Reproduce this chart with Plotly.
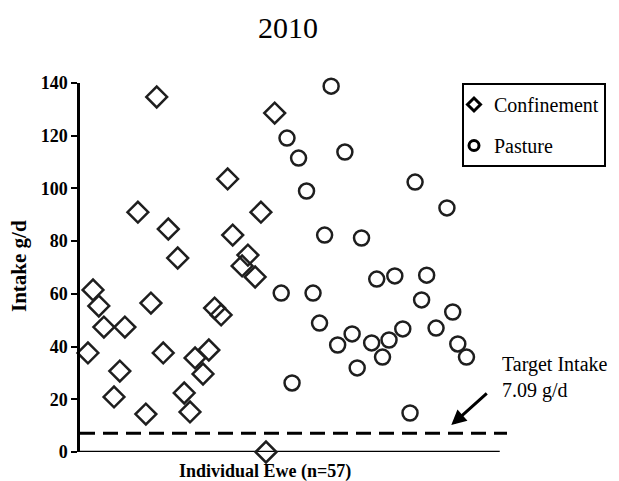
import plotly.graph_objects as go

# Individual ewe intake (g/d), position along the x axis = ewe slot
conf_pos = [1.1, 1.8, 2.6, 3.3, 4.7, 5.5, 6.2, 8.0, 9.1, 9.8, 10.6, 11.5, 12.2, 13.5, 14.4,
            15.2, 15.9, 17.0, 17.8, 18.6, 19.5, 20.4, 21.1, 22.4, 23.2, 24.2, 25.0, 25.7, 26.9]
conf_intake = [37.6, 61.5, 55.4, 47.4, 20.9, 30.7, 47.4, 91.0, 14.4, 56.5, 134.7, 37.6, 84.6, 73.6, 22.4,
               15.2, 35.7, 29.6, 38.7, 54.6, 52.0, 103.6, 82.3, 70.6, 74.7, 66.4, 91.0, 0.0, 128.6]

past_pos = [27.8, 28.6, 29.3, 30.2, 31.3, 32.2, 33.1, 33.8, 34.7, 35.6, 36.6, 37.6, 38.3, 38.9, 40.3,
            41.0, 41.8, 42.7, 43.5, 44.6, 45.6, 46.3, 47.2, 47.9, 49.2, 50.7, 51.5, 52.2, 53.4]
past_intake = [60.3, 119.1, 26.2, 111.5, 99.0, 60.3, 48.9, 82.3, 138.8, 40.6, 113.8, 44.8, 31.9, 81.2, 41.4,
               65.6, 36.0, 42.5, 66.8, 46.7, 14.8, 102.4, 57.7, 67.1, 47.0, 92.6, 53.1, 41.0, 36.0]

target = 7.09
y_ticks = [0, 20, 40, 60, 80, 100, 120, 140]

FONT = "Liberation Serif"
INK = "#1e1e1e"

fig = go.Figure()

# plotted points (no legend entries, legend uses small markers below)
fig.add_trace(go.Scatter(x=conf_pos, y=conf_intake, mode="markers", showlegend=False, cliponaxis=False,
                         marker=dict(symbol="diamond-open", size=16, color=INK, line=dict(width=2.5))))
fig.add_trace(go.Scatter(x=past_pos, y=past_intake, mode="markers", showlegend=False, cliponaxis=False,
                         marker=dict(symbol="circle-open", size=15, color=INK, line=dict(width=2.5))))

# legend entries
fig.add_trace(go.Scatter(x=[None], y=[None], mode="markers", name="Confinement", legendgroup="c",
                         marker=dict(symbol="diamond-open", size=10, color="black", line=dict(width=3))))
fig.add_trace(go.Scatter(x=[None], y=[None], mode="markers", name="Pasture", legendgroup="p",
                         marker=dict(symbol="circle-open", size=10, color="black", line=dict(width=3))))

# target intake line and x axis line
fig.add_shape(type="line", xref="x", yref="y", x0=0, x1=59, y0=target, y1=target,
              line=dict(color="black", width=3, dash="15px,8px"))
fig.add_shape(type="line", xref="x", yref="y", x0=0, x1=58, y0=0, y1=0,
              line=dict(color="black", width=2.5), layer="below")

fig.add_annotation(x=51.3, y=10.2, ax=37, ay=-33, text="", showarrow=True,
                   arrowhead=2, arrowsize=1, arrowwidth=3, arrowcolor="black")
fig.add_annotation(x=58.0, y=28.4, text="Target Intake<br>7.09 g/d", showarrow=False,
                   xanchor="left", yanchor="middle", align="left",
                   font=dict(family=FONT, size=20, color="black"))

fig.add_annotation(xref="paper", yref="paper", x=(265 - 80) / 427, y=-0.02,
                   text="<b>Individual Ewe (n=57)</b>", showarrow=False,
                   xanchor="center", yanchor="top", font=dict(family=FONT, size=18, color="black"))
fig.add_annotation(xref="paper", yref="paper", x=(19 - 80) / 427, y=0.504,
                   text="<b>Intake g/d</b>", showarrow=False, textangle=-90,
                   xanchor="center", yanchor="middle", font=dict(family=FONT, size=21, color="black"))

# page body adds an 8px offset, so the figure is 8px smaller than the window
fig.update_layout(
    width=611, height=473,
    margin=dict(l=72, r=112, t=75, b=29, autoexpand=False),
    paper_bgcolor="white", plot_bgcolor="white",
    title=dict(text="2010", x=280 / 611, xanchor="center", y=1 - 19 / 473, yanchor="middle",
               font=dict(family=FONT, size=30, color="black")),
    font=dict(family=FONT, color="black"),
    legend=dict(xref="container", x=454 / 611, xanchor="left",
                yref="container", y=1 - 75 / 473, yanchor="top",
                bordercolor="black", borderwidth=2, bgcolor="white",
                font=dict(family=FONT, size=20, color="black"),
                itemwidth=30, tracegroupgap=12, indentation=-10),
)

fig.update_xaxes(range=[0, 59], showline=False, showgrid=False, zeroline=False,
                 showticklabels=False, ticks="")
fig.update_yaxes(range=[0, 140], tickvals=y_ticks, showline=True, linecolor="black", linewidth=2.5,
                 ticks="outside", ticklen=6, tickwidth=2, tickcolor="black",
                 showgrid=False, zeroline=False,
                 tickfont=dict(family=FONT, size=18, color="black", weight="bold"))

fig.write_html("out.html")
